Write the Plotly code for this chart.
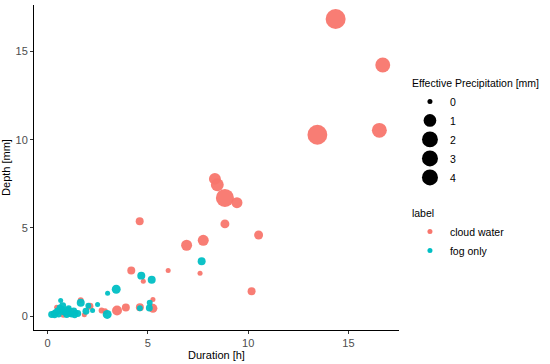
import numpy as np
import plotly.graph_objects as go

# ---- data ----
cloud_duration = [14.36, 16.71, 13.45, 16.54, 8.34, 8.46, 8.84, 9.44, 8.84, 10.52,
                  7.76, 6.93, 6.01, 7.60, 10.17, 4.59, 4.17, 4.77, 3.90, 3.46,
                  4.60, 5.25, 5.25, 2.69, 2.86, 2.11, 1.83, 1.65, 0.78, 0.45, 1.20]
cloud_depth = [16.84, 14.23, 10.28, 10.53, 7.78, 7.45, 6.70, 6.43, 5.23, 4.60,
               4.30, 4.02, 2.59, 2.43, 1.42, 5.38, 2.59, 1.98, 0.49, 0.32,
               0.51, 0.45, 0.95, 0.32, 0.28, 0.57, 0.08, 0.90, 0.08, 0.51, 0.28]
cloud_precip = [4.6, 2.2, 4.5, 2.2, 1.2, 1.5, 3.6, 0.95, 0.5, 0.5,
                0.95, 0.95, 0.04, 0.04, 0.34, 0.34, 0.34, 0.04, 0.34, 0.7,
                0.34, 0.5, 0.04, 0.1, 0.1, 0.2, 0.04, 0.1, 0.1, 0.04, 0.1]

fog_duration = [7.68, 4.67, 5.19, 3.42, 2.99, 2.97, 4.60, 5.07, 5.09, 2.49,
                2.03, 1.91, 1.65, 2.24, 0.65, 0.20, 0.30, 0.40, 0.50, 0.60,
                0.70, 0.80, 0.90, 1.00, 1.10, 1.20, 1.30, 1.40, 1.50, 0.35,
                0.55, 0.75, 0.95, 1.05, 1.35]
fog_depth = [3.11, 2.30, 2.06, 1.53, 1.30, 0.10, 0.45, 0.47, 0.76, 0.66,
             0.60, 0.28, 0.76, 0.32, 0.89, 0.10, 0.15, 0.20, 0.30, 0.50,
             0.40, 0.25, 0.20, 0.35, 0.15, 0.10, 0.30, 0.20, 0.15, 0.05,
             0.10, 0.60, 0.10, 0.45, 0.05]
fog_precip = [0.34, 0.34, 0.34, 0.5, 0.04, 0.5, 0.1, 0.2, 0.1, 0.04,
              0.1, 0.2, 0.34, 0.04, 0.04, 0.2, 0.1, 0.2, 0.2, 0.1,
              0.2, 0.2, 0.1, 0.2, 0.2, 0.1, 0.2, 0.1, 0.2, 0.1,
              0.1, 0.2, 0.2, 0.1, 0.1]

legend_precip = [0, 1, 2, 3, 4]
x_ticks = [0, 5, 10, 15]
y_ticks = [0, 5, 10, 15]

RED = "#F8766D"
CYAN = "#00BFC4"
P_MAX = max(cloud_precip + fog_precip)
D_MIN, D_MAX = 3.5, 20.0


def size_scale(p):
    """ggplot-like area scale: diameter grows with sqrt of value."""
    p = np.asarray(p, dtype=float)
    return D_MIN + (D_MAX - D_MIN) * np.sqrt(p / P_MAX)


fig = go.Figure()

fig.add_trace(go.Scatter(
    x=cloud_duration, y=cloud_depth, mode="markers", showlegend=False,
    marker=dict(color=RED, size=size_scale(cloud_precip), opacity=0.95, line=dict(width=0)),
))
fig.add_trace(go.Scatter(
    x=fog_duration, y=fog_depth, mode="markers", showlegend=False,
    marker=dict(color=CYAN, size=size_scale(fog_precip), opacity=0.95, line=dict(width=0)),
))

# size legend
for v, s in zip(legend_precip, size_scale(legend_precip)):
    fig.add_trace(go.Scatter(
        x=[None], y=[None], mode="markers", name=str(v), legend="legend",
        marker=dict(color="black", size=float(s) + 1.5),
    ))
# colour legend
for name, col in [("cloud water", RED), ("fog only", CYAN)]:
    fig.add_trace(go.Scatter(
        x=[None], y=[None], mode="markers", name=name, legend="legend2",
        marker=dict(color=col, size=5),
    ))

FONT = "Liberation Sans, Arial"
axis_common = dict(
    showgrid=False, zeroline=False, showline=True, linecolor="black", linewidth=1,
    ticks="outside", ticklen=3, tickcolor="#333333", automargin=False,
    tickfont=dict(family=FONT, size=11, color="#4D4D4D"),
)

fig.update_layout(
    width=550, height=364,
    margin=dict(l=34, r=151, t=5, b=34, autoexpand=False),
    paper_bgcolor="white", plot_bgcolor="white",
    font=dict(family=FONT, size=11, color="black"),
    xaxis=dict(range=[-0.68, 17.52], tickvals=x_ticks, **axis_common,
               title=dict(text="Duration [h]", standoff=2,
                          font=dict(size=11, color="black"))),
    yaxis=dict(range=[-0.78, 17.63], tickvals=y_ticks, **axis_common,
               title=dict(text="Depth [mm]", standoff=2,
                          font=dict(size=11, color="black"))),
    legend=dict(x=1.03, y=0.79, xanchor="left", yanchor="top",
                title=dict(text="Effective Precipitation [mm]", font=dict(size=10.5)),
                font=dict(size=10.5), itemsizing="trace", tracegroupgap=0,
                bgcolor="rgba(0,0,0,0)"),
    legend2=dict(x=1.03, y=0.39, xanchor="left", yanchor="top",
                 title=dict(text="label", font=dict(size=10.5)),
                 font=dict(size=10.5), itemsizing="trace",
                 bgcolor="rgba(0,0,0,0)"),
)

fig.write_html("out.html", config={"displayModeBar": False},
               post_script="document.body.style.margin='0';")
